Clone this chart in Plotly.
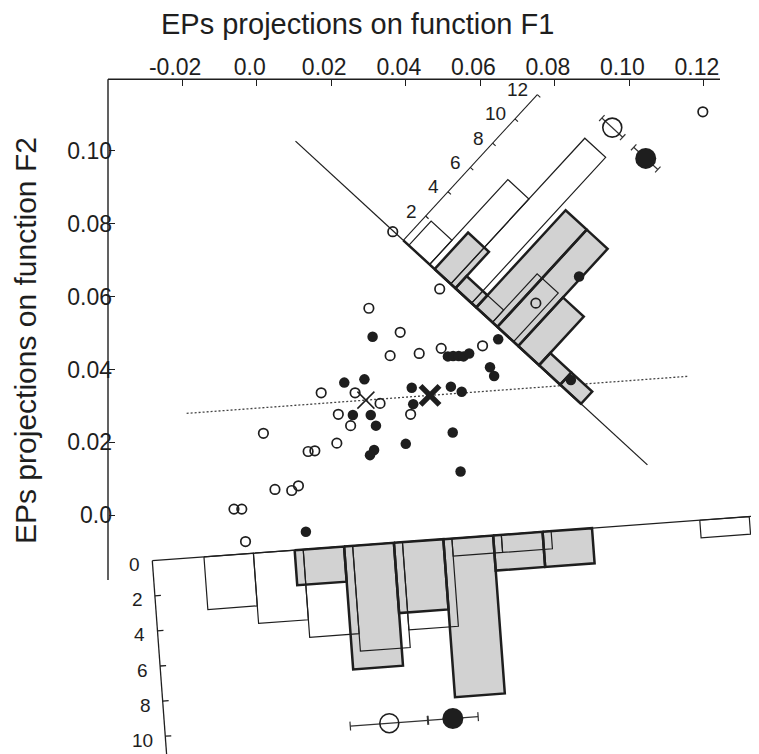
import plotly.graph_objects as go

# ------------------------------------------------------------------ data
F1_TICK_VALUES = [-0.02, 0.0, 0.02, 0.04, 0.06, 0.08, 0.10, 0.12]
F1_TICK_LABELS = ["-0.02", "0.0", "0.02", "0.04", "0.06", "0.08", "0.10", "0.12"]
F2_TICK_VALUES = [0.0, 0.02, 0.04, 0.06, 0.08, 0.10]
F2_TICK_LABELS = ["0.0", "0.02", "0.04", "0.06", "0.08", "0.10"]

# individual EPs (open = group 1, filled = group 2)
OPEN_F1 = [0.0301, 0.0385, 0.0358, 0.0436, 0.0495, 0.0606, 0.0491, 0.0173, 0.0264,
           0.0331, 0.0219, 0.0252, 0.0413, 0.0018, 0.0215, 0.0138, 0.0156, 0.0049,
           0.0094, 0.0112, -0.0061, -0.0040, -0.0030, 0.0365, 0.0749, 0.1197]
OPEN_F2 = [0.0568, 0.0502, 0.0438, 0.0444, 0.0458, 0.0465, 0.0621, 0.0336, 0.0336,
           0.0307, 0.0277, 0.0246, 0.0277, 0.0225, 0.0198, 0.0175, 0.0177, 0.0071,
           0.0068, 0.0081, 0.0017, 0.0017, -0.0072, 0.0778, 0.0582, 0.1107]
FILLED_F1 = [0.0311, 0.0235, 0.0289, 0.0416, 0.0420, 0.0521, 0.0550, 0.0258, 0.0306,
             0.0320, 0.0526, 0.0400, 0.0315, 0.0304, 0.0547, 0.0132, 0.0513, 0.0527,
             0.0542, 0.0555, 0.0570, 0.0648, 0.0626, 0.0637, 0.0865, 0.0843]
FILLED_F2 = [0.0490, 0.0364, 0.0373, 0.0350, 0.0305, 0.0353, 0.0339, 0.0275, 0.0275,
             0.0246, 0.0227, 0.0196, 0.0179, 0.0165, 0.0120, -0.0045, 0.0436, 0.0437,
             0.0437, 0.0436, 0.0444, 0.0483, 0.0406, 0.0382, 0.0655, 0.0371]

# group centroids (X marks)
MEAN_OPEN = [0.0293, 0.0316]
MEAN_FILLED = [0.0465, 0.0329]
MEAN_LINE_F1_EXTENT = [-0.0188, 0.1158]

# histogram of projections on the discriminant line (bottom panel)
DISC_OPEN_EDGES = [0.0139, 0.0272, 0.0406, 0.0539, 0.0673, 0.0806, 0.0939, 0.1073,
                   0.1206, 0.1340, 0.1473, 0.1606]
DISC_OPEN_COUNTS = [3, 4, 5, 6, 5, 1, 1, 0, 0, 0, 1]
DISC_FILLED_EDGES = [0.0383, 0.0516, 0.0650, 0.0783, 0.0917, 0.1050, 0.1183]
DISC_FILLED_COUNTS = [2, 7, 4, 9, 2, 2]
DISC_MEAN = [0.0602, 0.0773]
DISC_SD = [0.0105, 0.0068]
DISC_COUNT_TICKS = [0, 2, 4, 6, 8, 10]

# histogram of projections on the oblique axis (upper right panel)
DIAG_OPEN_EDGES = [0.0020, 0.0096, 0.0173, 0.0249, 0.0325, 0.0402]
DIAG_OPEN_COUNTS = [2, 7, 12, 1, 4]
DIAG_FILLED_EDGES = [0.0114, 0.0190, 0.0266, 0.0343, 0.0419, 0.0495, 0.0572, 0.0648]
DIAG_FILLED_COUNTS = [3, 1, 8, 8, 4, 1, 1]
DIAG_MEAN = [0.0208, 0.0330]
DIAG_SD = [0.0038, 0.0044]
DIAG_COUNT_TICKS = [2, 4, 6, 8, 10, 12]

# ------------------------------------------------------------------ geometry
VIEW_W, VIEW_H = 759, 754
OFF = 8                              # default body margin of the page
W, H = VIEW_W - OFF, VIEW_H - OFF    # figure size so the page does not overflow
PX_X0, PX_PER_X = 256.7, 3727.0      # window pixel of F1 = 0, pixels per unit
PX_Y0, PX_PER_Y = 515.3, 3645.0      # window pixel of F2 = 0, pixels per unit
PROJ_PX = 3727.0                     # pixels per projection unit

def to_data(px, py):
    return (px - PX_X0) / PX_PER_X, (PX_Y0 - py) / PX_PER_Y

def paper(px, py):
    return (px - OFF) / W, 1 - (py - OFF) / H

# discriminant frame: baseline parallel to the line through the centroids
_dx = (MEAN_FILLED[0] - MEAN_OPEN[0]) * PX_PER_X
_dy = -(MEAN_FILLED[1] - MEAN_OPEN[1]) * PX_PER_Y
_n = (_dx ** 2 + _dy ** 2) ** 0.5
_ub = (_dx / _n, _dy / _n)
BOTTOM = dict(origin=(152.3, 560.7), u=_ub, v=(-_ub[1], _ub[0]), count_px=17.6)
DIAG = dict(origin=(403.3, 240.3), u=(0.736, 0.677), v=(0.677, -0.736), count_px=16.5)

def frame_px(fr, s, c):
    ox, oy = fr["origin"]
    sp = s * PROJ_PX
    cp = c * fr["count_px"]
    return (ox + sp * fr["u"][0] + cp * fr["v"][0],
            oy + sp * fr["u"][1] + cp * fr["v"][1])

def frame_pt(fr, s, c):
    return to_data(*frame_px(fr, s, c))

def bars_xy(fr, edges, counts):
    xs, ys = [], []
    for a, b, n in zip(edges[:-1], edges[1:], counts):
        if n <= 0:
            continue
        for s, c in [(a, 0), (a, n), (b, n), (b, 0), (a, 0)]:
            x, y = frame_pt(fr, s, c)
            xs.append(x)
            ys.append(y)
        xs.append(None)
        ys.append(None)
    return xs, ys

def seg(p, q):
    return [p[0], q[0], None], [p[1], q[1], None]

INK = "#1e1e1e"
GRAY = "#d2d2d2"
FONT = "Liberation Sans, Arial, sans-serif"

fig = go.Figure()

def add_lines(xs, ys, width, color=INK, dash=None, fill=None, fillcolor=None):
    fig.add_trace(go.Scatter(x=xs, y=ys, mode="lines", fill=fill, fillcolor=fillcolor,
                             line=dict(color=color, width=width, dash=dash),
                             hoverinfo="skip", showlegend=False))

# dotted line through the two centroids
slope = (MEAN_FILLED[1] - MEAN_OPEN[1]) / (MEAN_FILLED[0] - MEAN_OPEN[0])
lx = MEAN_LINE_F1_EXTENT
ly = [MEAN_OPEN[1] + slope * (v - MEAN_OPEN[0]) for v in lx]
add_lines(lx, ly, 1.3, color="#444", dash="2px,2px")

# oblique baseline (long thin line)
p0 = frame_pt(DIAG, -0.0393, 0)
p1 = frame_pt(DIAG, 0.0890, 0)
add_lines([p0[0], p1[0]], [p0[1], p1[1]], 1.3)

# discriminant baseline
p0 = frame_pt(BOTTOM, 0, 0)
p1 = frame_pt(BOTTOM, 0.165, 0)
add_lines([p0[0], p1[0]], [p0[1], p1[1]], 1.3)

# filled-group histograms (grey, thick)
for fr, e, n in [(DIAG, DIAG_FILLED_EDGES, DIAG_FILLED_COUNTS),
                 (BOTTOM, DISC_FILLED_EDGES, DISC_FILLED_COUNTS)]:
    xs, ys = bars_xy(fr, e, n)
    add_lines(xs, ys, 2.5, fill="toself", fillcolor=GRAY)

# open-group histograms (thin outline)
for fr, e, n in [(DIAG, DIAG_OPEN_EDGES, DIAG_OPEN_COUNTS),
                 (BOTTOM, DISC_OPEN_EDGES, DISC_OPEN_COUNTS)]:
    xs, ys = bars_xy(fr, e, n)
    add_lines(xs, ys, 1.2)

# thick part of the oblique baseline
p0 = frame_pt(DIAG, 0, 0)
p1 = frame_pt(DIAG, DIAG_FILLED_EDGES[-1], 0)
add_lines([p0[0], p1[0]], [p0[1], p1[1]], 2.5)

annotations = []

# count axis of the discriminant histogram
p0 = frame_pt(BOTTOM, 0, 0)
p1 = frame_pt(BOTTOM, 0, 11.2)
xs, ys = [p0[0], p1[0], None], [p0[1], p1[1], None]
for c in DISC_COUNT_TICKS:
    if c > 0:
        a = frame_pt(BOTTOM, 0, c)
        b = frame_pt(BOTTOM, 6 / PROJ_PX, c)
        sx, sy = seg(a, b)
        xs += sx
        ys += sy
    px, py = frame_px(BOTTOM, 0, c)
    tx, ty = to_data(px - 10, py + 4)
    annotations.append(dict(x=tx, y=ty, xref="x", yref="y", text=str(c), showarrow=False,
                            xanchor="right", yanchor="middle",
                            font=dict(size=19, family=FONT, color=INK)))
add_lines(xs, ys, 1.3)

# count axis of the oblique histogram
p0 = frame_pt(DIAG, 0, 0)
p1 = frame_pt(DIAG, 0, DIAG_COUNT_TICKS[-1])
xs, ys = [p0[0], p1[0], None], [p0[1], p1[1], None]
for c in DIAG_COUNT_TICKS:
    a = frame_pt(DIAG, 0, c)
    b = frame_pt(DIAG, 4 / PROJ_PX, c)
    sx, sy = seg(a, b)
    xs += sx
    ys += sy
    px, py = frame_px(DIAG, 0, c)
    tx, ty = to_data(px - 7, py - 5)
    annotations.append(dict(x=tx, y=ty, xref="x", yref="y", text=str(c), showarrow=False,
                            xanchor="right", yanchor="middle",
                            font=dict(size=19, family=FONT, color=INK)))
add_lines(xs, ys, 1.1)

# main axis lines
x_left, y_top = to_data(108, 79.3)
x_right, y_bot = to_data(720, 580)
add_lines([x_left, x_right], [y_top, y_top], 1.4)
add_lines([x_left, x_left], [y_top, y_bot], 1.4)

# individual EPs
fig.add_trace(go.Scatter(x=OPEN_F1, y=OPEN_F2, mode="markers", hoverinfo="skip",
                         marker=dict(symbol="circle-open", size=9.5, color=INK,
                                     line=dict(width=1.7, color=INK)), showlegend=False))
fig.add_trace(go.Scatter(x=FILLED_F1, y=FILLED_F2, mode="markers", hoverinfo="skip",
                         marker=dict(symbol="circle", size=10.5, color=INK,
                                     line=dict(width=0)), showlegend=False))

# centroids
fig.add_trace(go.Scatter(x=[MEAN_OPEN[0]], y=[MEAN_OPEN[1]], mode="markers", hoverinfo="skip",
                         marker=dict(symbol="x-thin", size=17, color=INK,
                                     line=dict(width=1.5, color=INK)), showlegend=False))
fig.add_trace(go.Scatter(x=[MEAN_FILLED[0]], y=[MEAN_FILLED[1]], mode="markers", hoverinfo="skip",
                         marker=dict(symbol="x-thin", size=19, color=INK,
                                     line=dict(width=5.5, color=INK)), showlegend=False))

# projected means with SD bars
def mean_bars(fr, means, sds, height, cap_px):
    xs, ys, mx, my = [], [], [], []
    half = cap_px / 2 / fr["count_px"]
    for m, sd in zip(means, sds):
        a = frame_pt(fr, m - sd, height)
        b = frame_pt(fr, m + sd, height)
        sx, sy = seg(a, b)
        xs += sx
        ys += sy
        for e in (m - sd, m + sd):
            sx, sy = seg(frame_pt(fr, e, height - half), frame_pt(fr, e, height + half))
            xs += sx
            ys += sy
        p = frame_pt(fr, m, height)
        mx.append(p[0])
        my.append(p[1])
    add_lines(xs, ys, 1.2, color="#333")
    return mx, my

for fr, means, sds, h, cap in [(DIAG, DIAG_MEAN, DIAG_SD, 13.6, 8),
                               (BOTTOM, DISC_MEAN, DISC_SD, 10.2, 9)]:
    mx, my = mean_bars(fr, means, sds, h, cap)
    fig.add_trace(go.Scatter(x=[mx[0]], y=[my[0]], mode="markers", hoverinfo="skip",
                             marker=dict(symbol="circle-open", size=19, color=INK,
                                         line=dict(width=1.6, color=INK)), showlegend=False))
    fig.add_trace(go.Scatter(x=[mx[1]], y=[my[1]], mode="markers", hoverinfo="skip",
                             marker=dict(symbol="circle", size=21, color=INK,
                                         line=dict(width=0)), showlegend=False))

# axis titles
tx, ty = paper(357, 24)
annotations.append(dict(x=tx, y=ty, xref="paper", yref="paper",
                        text="EPs projections on function F1", showarrow=False,
                        xanchor="center", yanchor="middle",
                        font=dict(size=29, family=FONT, color=INK)))
tx, ty = paper(25, 341)
annotations.append(dict(x=tx, y=ty, xref="paper", yref="paper",
                        text="EPs projections on function F2", showarrow=False,
                        textangle=-90, xanchor="center", yanchor="middle",
                        font=dict(size=30, family=FONT, color=INK)))

x_lo, y_hi = to_data(OFF, OFF)
x_hi, y_lo = to_data(VIEW_W, VIEW_H)
_, xpos_y = paper(0, 79.3)
ypos_x, _ = paper(108, 0)

fig.update_layout(
    width=W, height=H, margin=dict(l=0, r=0, t=0, b=0, pad=0),
    paper_bgcolor="white", plot_bgcolor="white", showlegend=False, hovermode=False,
    annotations=annotations,
    xaxis=dict(range=[x_lo, x_hi], domain=[0, 1], anchor="free", position=xpos_y,
               side="top", tickmode="array", tickvals=F1_TICK_VALUES, ticktext=F1_TICK_LABELS,
               ticks="inside", ticklen=6, tickwidth=1.4, tickcolor=INK,
               ticklabelshift=-7,
               showgrid=False, zeroline=False, showline=False,
               tickfont=dict(size=23, family=FONT, color=INK)),
    yaxis=dict(range=[y_lo, y_hi], domain=[0, 1], anchor="free", position=ypos_x,
               side="left", tickmode="array", tickvals=F2_TICK_VALUES, ticktext=F2_TICK_LABELS,
               ticks="inside", ticklen=6, tickwidth=1.4, tickcolor=INK,
               ticklabelstandoff=-4,
               showgrid=False, zeroline=False, showline=False,
               tickfont=dict(size=23, family=FONT, color=INK)),
)

fig.write_html("out.html")
